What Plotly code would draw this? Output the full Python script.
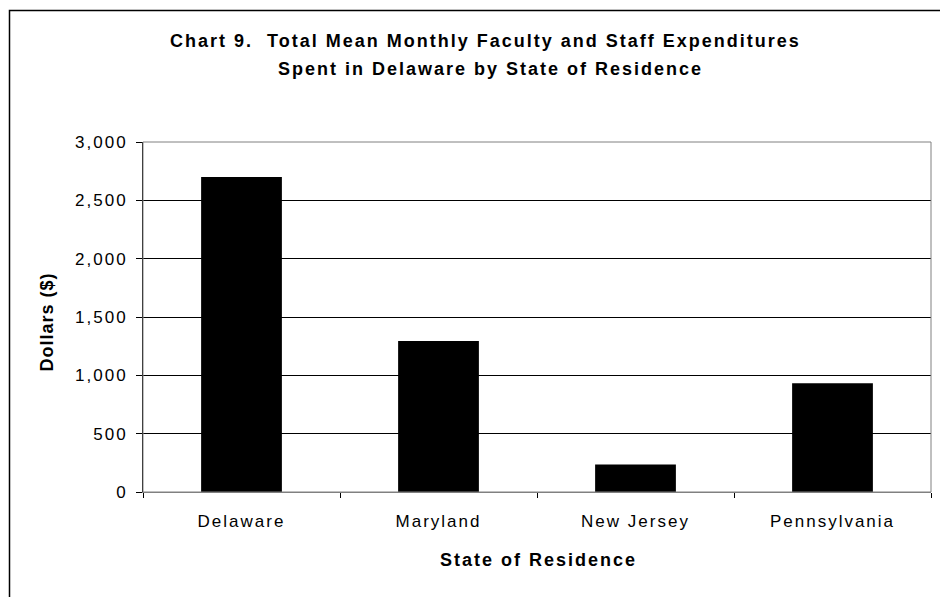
import plotly.graph_objects as go

# Data
states = ["Delaware", "Maryland", "New Jersey", "Pennsylvania"]
mean_monthly_spend = [2700, 1295, 236, 933]
y_tick_values = [0, 500, 1000, 1500, 2000, 2500, 3000]
y_tick_labels = ["0", "500", "1,000", "1,500", "2,000", "2,500", "3,000"]

title_line_1 = "Chart 9.  Total Mean Monthly Faculty and Staff Expenditures"
title_line_2 = "Spent in Delaware by State of Residence"
x_title = "State of Residence"
y_title = "Dollars ($)"

# Canvas and plot-area geometry (pixels)
W, H = 940, 597
ML, MR, MT, MB = 143, 9, 142, 105
PW, PH = W - ML - MR, H - MT - MB
FONT = "Liberation Sans, Arial, sans-serif"


def px_x(px):
    return (px - ML) / PW


def px_y(py):
    return (H - MB - py) / PH


fig = go.Figure(
    go.Bar(
        x=states,
        y=mean_monthly_spend,
        marker=dict(color="black", line=dict(width=0)),
        width=0.41,
        hoverinfo="x+y",
    )
)

fig.update_layout(
    width=W,
    height=H,
    margin=dict(l=ML, r=MR, t=MT, b=MB, pad=0),
    paper_bgcolor="white",
    plot_bgcolor="white",
    font=dict(family=FONT, color="black", size=16),
    showlegend=False,
    xaxis=dict(
        showline=True,
        linecolor="#808080",
        linewidth=1,
        ticks="outside",
        tickson="boundaries",
        ticklen=5,
        tickcolor="black",
        tickwidth=1,
        showgrid=False,
        zeroline=False,
        tickfont=dict(size=17, family=FONT),
        ticklabelstandoff=14,
    ),
    yaxis=dict(
        range=[0, 3000],
        tickvals=y_tick_values,
        ticktext=y_tick_labels,
        showline=True,
        linecolor="black",
        linewidth=1,
        ticks="outside",
        ticklen=6,
        tickcolor="black",
        tickwidth=1,
        showgrid=True,
        gridcolor="black",
        gridwidth=1,
        zeroline=False,
        tickfont=dict(size=17, family=FONT),
        ticklabelstandoff=5,
    ),
    shapes=[
        # plot-area frame
        dict(type="rect", xref="paper", yref="paper", x0=0, x1=1, y0=0, y1=1,
             line=dict(color="#808080", width=1), layer="above"),
        # outer chart frame (runs off the right and bottom edges)
        dict(type="rect", xref="paper", yref="paper",
             x0=px_x(9.5), x1=px_x(W + 20), y0=px_y(H + 20), y1=px_y(10.5),
             line=dict(color="black", width=1.5), layer="above"),
    ],
    annotations=[
        dict(text=f"<b>{title_line_1}</b>", xref="paper", yref="paper",
             x=px_x(485), y=px_y(41), xanchor="center", yanchor="middle",
             showarrow=False, font=dict(size=18, family=FONT)),
        dict(text=f"<b>{title_line_2}</b>", xref="paper", yref="paper",
             x=px_x(490), y=px_y(69), xanchor="center", yanchor="middle",
             showarrow=False, font=dict(size=18, family=FONT)),
        dict(text=f"<b>{x_title}</b>", xref="paper", yref="paper",
             x=px_x(538), y=px_y(560), xanchor="center", yanchor="middle",
             showarrow=False, font=dict(size=18, family=FONT)),
        dict(text=f"<b>{y_title}</b>", xref="paper", yref="paper",
             x=px_x(47), y=px_y(322), xanchor="center", yanchor="middle",
             textangle=-90, showarrow=False, font=dict(size=18, family=FONT)),
    ],
)

# Slightly open letter spacing on all chart text, tighter on the vertical title
spacing_js = """
var gd = document.getElementById('{plot_id}');
gd.querySelectorAll('svg text').forEach(function (t) {
    t.style.letterSpacing = (t.textContent.indexOf('Dollars') === 0) ? '1px' : '2px';
});
"""

fig.write_html("out.html", post_script=spacing_js)
